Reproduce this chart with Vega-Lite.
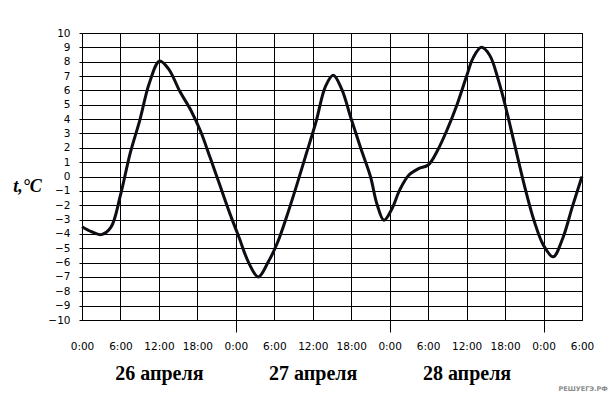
{
  "$schema": "https://vega.github.io/schema/vega-lite/v6.json",
  "width": 500,
  "height": 287,
  "autosize": {"type": "none"},
  "padding": {"left": 82, "top": 33, "right": 34, "bottom": 95},
  "background": "white",
  "title": {
    "text": "РЕШУЕГЭ.РФ",
    "orient": "bottom",
    "anchor": "end",
    "font": "DejaVu Sans",
    "fontSize": 6.5,
    "fontWeight": "bold",
    "color": "#8c8c8c",
    "dx": 14,
    "offset": 3
  },
  "config": {
    "view": {"stroke": "black", "strokeWidth": 1},
    "axis": {
      "labelFont": "DejaVu Sans",
      "labelFontSize": 10.5,
      "labelColor": "black",
      "gridColor": "black",
      "gridOpacity": 1,
      "gridWidth": 1,
      "domain": false,
      "labelOverlap": false
    }
  },
  "data": {
    "values": [
      {"h": 0, "t": -3.5},
      {"h": 1.5, "t": -3.85},
      {"h": 3.0, "t": -4.05},
      {"h": 4.5, "t": -3.55},
      {"h": 6.0, "t": -1.3},
      {"h": 7.5, "t": 1.6},
      {"h": 9.0, "t": 3.9},
      {"h": 10.5, "t": 6.5},
      {"h": 12.1, "t": 8.05},
      {"h": 13.5, "t": 7.5},
      {"h": 15.3, "t": 5.9},
      {"h": 17.0, "t": 4.6},
      {"h": 18.5, "t": 3.15},
      {"h": 20.0, "t": 1.3},
      {"h": 21.5, "t": -0.6},
      {"h": 23.0, "t": -2.5},
      {"h": 24.5, "t": -4.25},
      {"h": 26.0, "t": -6.0},
      {"h": 27.5, "t": -7.0},
      {"h": 29.0, "t": -6.0},
      {"h": 30.5, "t": -4.6},
      {"h": 32.0, "t": -2.7},
      {"h": 33.5, "t": -0.6},
      {"h": 35.0, "t": 1.6},
      {"h": 36.5, "t": 3.8},
      {"h": 38.0, "t": 6.3},
      {"h": 39.2, "t": 7.05},
      {"h": 40.5, "t": 6.1},
      {"h": 42.0, "t": 4.0},
      {"h": 43.5, "t": 1.95},
      {"h": 45.0, "t": 0},
      {"h": 46.0, "t": -1.9},
      {"h": 47.1, "t": -3.05},
      {"h": 48.3, "t": -2.3},
      {"h": 49.6, "t": -0.9},
      {"h": 51.0, "t": 0.1},
      {"h": 52.5, "t": 0.55},
      {"h": 54.0, "t": 0.8},
      {"h": 55.5, "t": 1.85},
      {"h": 57.0, "t": 3.3},
      {"h": 58.5, "t": 5.0},
      {"h": 60.0, "t": 7.0},
      {"h": 61.0, "t": 8.25},
      {"h": 62.3, "t": 9.0},
      {"h": 63.6, "t": 8.45},
      {"h": 65.0, "t": 6.65},
      {"h": 66.0, "t": 5.0},
      {"h": 67.5, "t": 2.2},
      {"h": 69.0, "t": -0.6},
      {"h": 70.5, "t": -3.05},
      {"h": 72.0, "t": -4.8},
      {"h": 73.5, "t": -5.6},
      {"h": 75.0, "t": -4.3},
      {"h": 76.5, "t": -2.1},
      {"h": 78.0, "t": 0.0}
    ]
  },
  "layer": [
    {
      "mark": {"type": "line", "interpolate": "catmull-rom", "color": "#0d0d14", "strokeWidth": 3},
      "encoding": {
        "x": {
          "field": "h",
          "type": "quantitative",
          "scale": {"domain": [0, 78], "nice": false, "zero": false},
          "axis": {
            "orient": "bottom",
            "title": null,
            "values": [0, 6, 12, 18, 24, 30, 36, 42, 48, 54, 60, 66, 72, 78],
            "labelExpr": "(datum.value % 24) + ':00'",
            "ticks": false,
            "labelPadding": 29,
            "labelBaseline": "alphabetic",
            "labelFlush": false,
            "grid": true
          }
        },
        "y": {
          "field": "t",
          "type": "quantitative",
          "scale": {"domain": [-10, 10], "nice": false},
          "axis": {
            "orient": "left",
            "title": "t,°C",
            "titleFont": "Liberation Serif",
            "titleFontSize": 18,
            "titleFontWeight": "bold",
            "titleFontStyle": "italic",
            "titleAngle": 0,
            "titleAlign": "center",
            "titleBaseline": "alphabetic",
            "titleX": -55,
            "titleY": 158,
            "values": [-10, -9, -8, -7, -6, -5, -4, -3, -2, -1, 0, 1, 2, 3, 4, 5, 6, 7, 8, 9, 10],
            "tickSize": 3,
            "tickColor": "black",
            "labelPadding": 9,
            "labelFlush": false,
            "grid": true
          }
        }
      }
    },
    {
      "mark": {"type": "line", "opacity": 0},
      "encoding": {
        "x": {
          "field": "h",
          "type": "quantitative",
          "axis": {
            "orient": "bottom",
            "title": null,
            "values": [24, 48, 72],
            "labelExpr": "datum.value == 24 ? '26 апреля' : datum.value == 48 ? '27 апреля' : '28 апреля'",
            "labelFont": "Liberation Serif",
            "labelFontSize": 20,
            "labelFontWeight": "bold",
            "labelOffset": -77,
            "labelBaseline": "alphabetic",
            "labelPadding": 47,
            "labelFlush": false,
            "tickSize": 12,
            "tickColor": "black",
            "grid": false
          }
        },
        "y": {"field": "t", "type": "quantitative", "axis": null}
      }
    }
  ],
  "resolve": {"axis": {"x": "independent", "y": "independent"}}
}
